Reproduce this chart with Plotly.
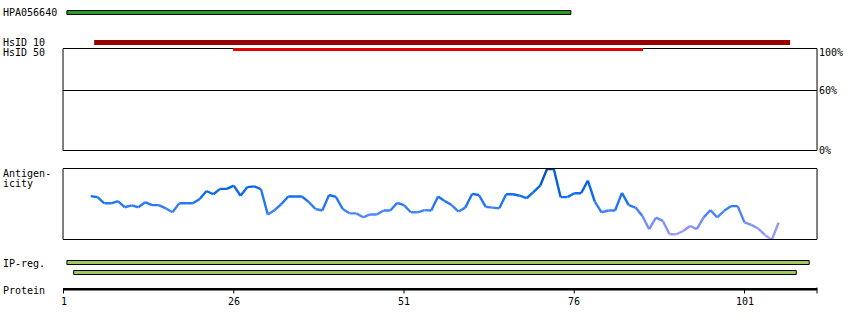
import plotly.graph_objects as go

# ---------------- data ----------------
antibody_name = "HPA056640"
antibody_start = 1.5
antibody_end = 75.5

hsid_labels = ["HsID 10", "HsID 50"]
hsid_starts = [5.5, 25.9]
hsid_ends = [107.7, 86.1]
hsid_colors = ["#990000", "#e00000"]

identity_ticks = [100, 60, 0]
identity_threshold = 60

residues = list(range(5, 107))
antigenicity = [
    0.22, 0.19, 0.02, 0.02, 0.08, -0.09, -0.04, -0.09, 0.05, -0.03,
    -0.03, -0.12, -0.23, 0.02, 0.02, 0.02, 0.14, 0.36, 0.27, 0.42,
    0.42, 0.51, 0.23, 0.47, 0.49, 0.41, -0.29, -0.17, 0.00, 0.21,
    0.21, 0.21, 0.06, -0.14, -0.18, 0.25, 0.20, -0.14, -0.26, -0.26,
    -0.37, -0.29, -0.29, -0.18, -0.18, 0.03, -0.03, -0.23, -0.23, -0.17,
    -0.18, 0.21, 0.08, -0.03, -0.21, -0.10, 0.28, 0.25, -0.08, -0.10,
    -0.12, 0.27, 0.27, 0.23, 0.16, 0.33, 0.51, 0.97, 0.97, 0.19,
    0.19, 0.30, 0.30, 0.65, 0.07, -0.23, -0.18, -0.18, 0.31, -0.03,
    -0.10, -0.33, -0.70, -0.38, -0.47, -0.84, -0.84, -0.75, -0.61, -0.70,
    -0.37, -0.17, -0.37, -0.19, -0.06, -0.06, -0.51, -0.58, -0.68, -0.86,
    -1.00, -0.52,
]

ipreg_starts = [1.5, 2.5]
ipreg_ends = [110.5, 108.6]

protein_ticks = [1, 26, 51, 76, 101]
protein_end = 111.65

# ---------------- layout helpers ----------------
W, H = 850, 330
PX0, PXR = 63.5, 6.81          # pixel of residue 1, pixels per residue
x_lo = 1 - PX0 / PXR
x_hi = 1 + (W - PX0) / PXR
box_left = 0.93

FONT = dict(family="DejaVu Sans Mono", size=10, color="black")


def pdom(top_px, bottom_px):
    return [(H - bottom_px) / H, (H - top_px) / H]


def seg_color(v):
    anchors = [(1.0, (0, 64, 128)), (0.6, (0, 96, 224)), (0.2, (16, 112, 240)),
               (-0.2, (64, 130, 248)), (-0.6, (128, 146, 248)), (-1.0, (176, 162, 250))]
    if v >= anchors[0][0]:
        c = anchors[0][1]
    elif v <= anchors[-1][0]:
        c = anchors[-1][1]
    else:
        for (a, ca), (b, cb) in zip(anchors, anchors[1:]):
            if b <= v <= a:
                t = (a - v) / (a - b)
                c = tuple(round(ca[i] + (cb[i] - ca[i]) * t) for i in range(3))
                break
    return "rgb(%d,%d,%d)" % c


fig = go.Figure()

# antigenicity curve, segment by segment with value-based colour
for i in range(len(residues) - 1):
    v = (antigenicity[i] + antigenicity[i + 1]) / 2
    fig.add_trace(go.Scatter(
        x=residues[i:i + 2], y=antigenicity[i:i + 2], mode="lines",
        line=dict(color=seg_color(v), width=2.4), xaxis="x", yaxis="y2",
        hoverinfo="skip", showlegend=False, cliponaxis=False))

# invisible traces so every axis is realised
fig.add_trace(go.Scatter(x=[x_lo], y=[0], mode="markers",
                         marker=dict(opacity=0), showlegend=False, hoverinfo="skip"))
fig.add_trace(go.Scatter(x=[x_lo], y=[0], mode="markers", yaxis="y3",
                         marker=dict(opacity=0), showlegend=False, hoverinfo="skip"))

shapes = []
# antibody bar
shapes.append(dict(type="rect", xref="x", yref="y", x0=antibody_start, x1=antibody_end,
                   y0=10.5, y1=14.5, fillcolor="#22a022", line=dict(color="black", width=1)))
# identity box
shapes.append(dict(type="rect", xref="x", yref="y", x0=box_left, x1=protein_end,
                   y0=48.5, y1=150.5, line=dict(color="black", width=1)))
shapes.append(dict(type="line", xref="x", yref="y3", x0=box_left, x1=protein_end,
                   y0=identity_threshold, y1=identity_threshold,
                   line=dict(color="black", width=1)))
# HsID bars
hsid_y = [(40, 45), (48, 51)]
for s, e, c, (ya, yb) in zip(hsid_starts, hsid_ends, hsid_colors, hsid_y):
    shapes.append(dict(type="rect", xref="x", yref="y", x0=s, x1=e, y0=ya, y1=yb,
                       fillcolor=c, line=dict(width=0)))
# antigenicity box
shapes.append(dict(type="rect", xref="x", yref="y", x0=box_left, x1=protein_end,
                   y0=168.5, y1=239.5, line=dict(color="black", width=1)))
# IP-reg bars
ip_y = [(260.5, 264.5), (270.5, 274.5)]
for s, e, (ya, yb) in zip(ipreg_starts, ipreg_ends, ip_y):
    shapes.append(dict(type="rect", xref="x", yref="y", x0=s, x1=e, y0=ya, y1=yb,
                       fillcolor="#a0c860", line=dict(color="black", width=1)))
# protein axis
shapes.append(dict(type="line", xref="x", yref="y", x0=box_left, x1=protein_end,
                   y0=289.2, y1=289.2, line=dict(color="black", width=2.5)))
for t in protein_ticks:
    shapes.append(dict(type="line", xref="x", yref="y", x0=t, x1=t, y0=288, y1=293.5,
                       line=dict(color="black", width=1)))
shapes.append(dict(type="line", xref="x", yref="y", x0=protein_end, x1=protein_end,
                   y0=287.5, y1=293.5, line=dict(color="black", width=1)))

annotations = []


def label(text, ypx):
    annotations.append(dict(text=text, xref="paper", yref="y", x=1 / W, y=ypx,
                            xanchor="left", yanchor="middle", showarrow=False, font=FONT))


label(antibody_name, 12.5)
label(hsid_labels[0], 42)
label(hsid_labels[1], 52)
label("Antigen-", 173.5)
label("icity", 183.5)
label("IP-reg.", 263.5)
label("Protein", 290)

for t in protein_ticks:
    annotations.append(dict(text=str(t), xref="x", yref="y", x=t, y=301.5,
                            xanchor="center", yanchor="middle", showarrow=False, font=FONT))
for t, sh in zip(identity_ticks, [-2, 0, 0]):
    annotations.append(dict(text="%d%%" % t, xref="x", yref="y3", x=protein_end, y=t,
                            xanchor="left", yanchor="middle", xshift=0, yshift=sh,
                            showarrow=False, font=FONT))

fig.update_layout(
    width=W, height=H, margin=dict(l=0, r=0, t=0, b=0),
    paper_bgcolor="white", plot_bgcolor="rgba(0,0,0,0)",
    showlegend=False, shapes=shapes, annotations=annotations,
    xaxis=dict(range=[x_lo, x_hi], domain=[0, 1], visible=False, fixedrange=True,
               anchor="y"),
    yaxis=dict(range=[H, 0], domain=[0, 1], visible=False, fixedrange=True, anchor="x"),
    yaxis2=dict(range=[-1.0, 0.986], domain=pdom(168.5, 240), visible=False,
                anchor="x", fixedrange=True),
    yaxis3=dict(range=[0, 100], domain=pdom(50.5, 150.5), visible=False,
                anchor="x", fixedrange=True),
)

fig.write_html("out.html")
